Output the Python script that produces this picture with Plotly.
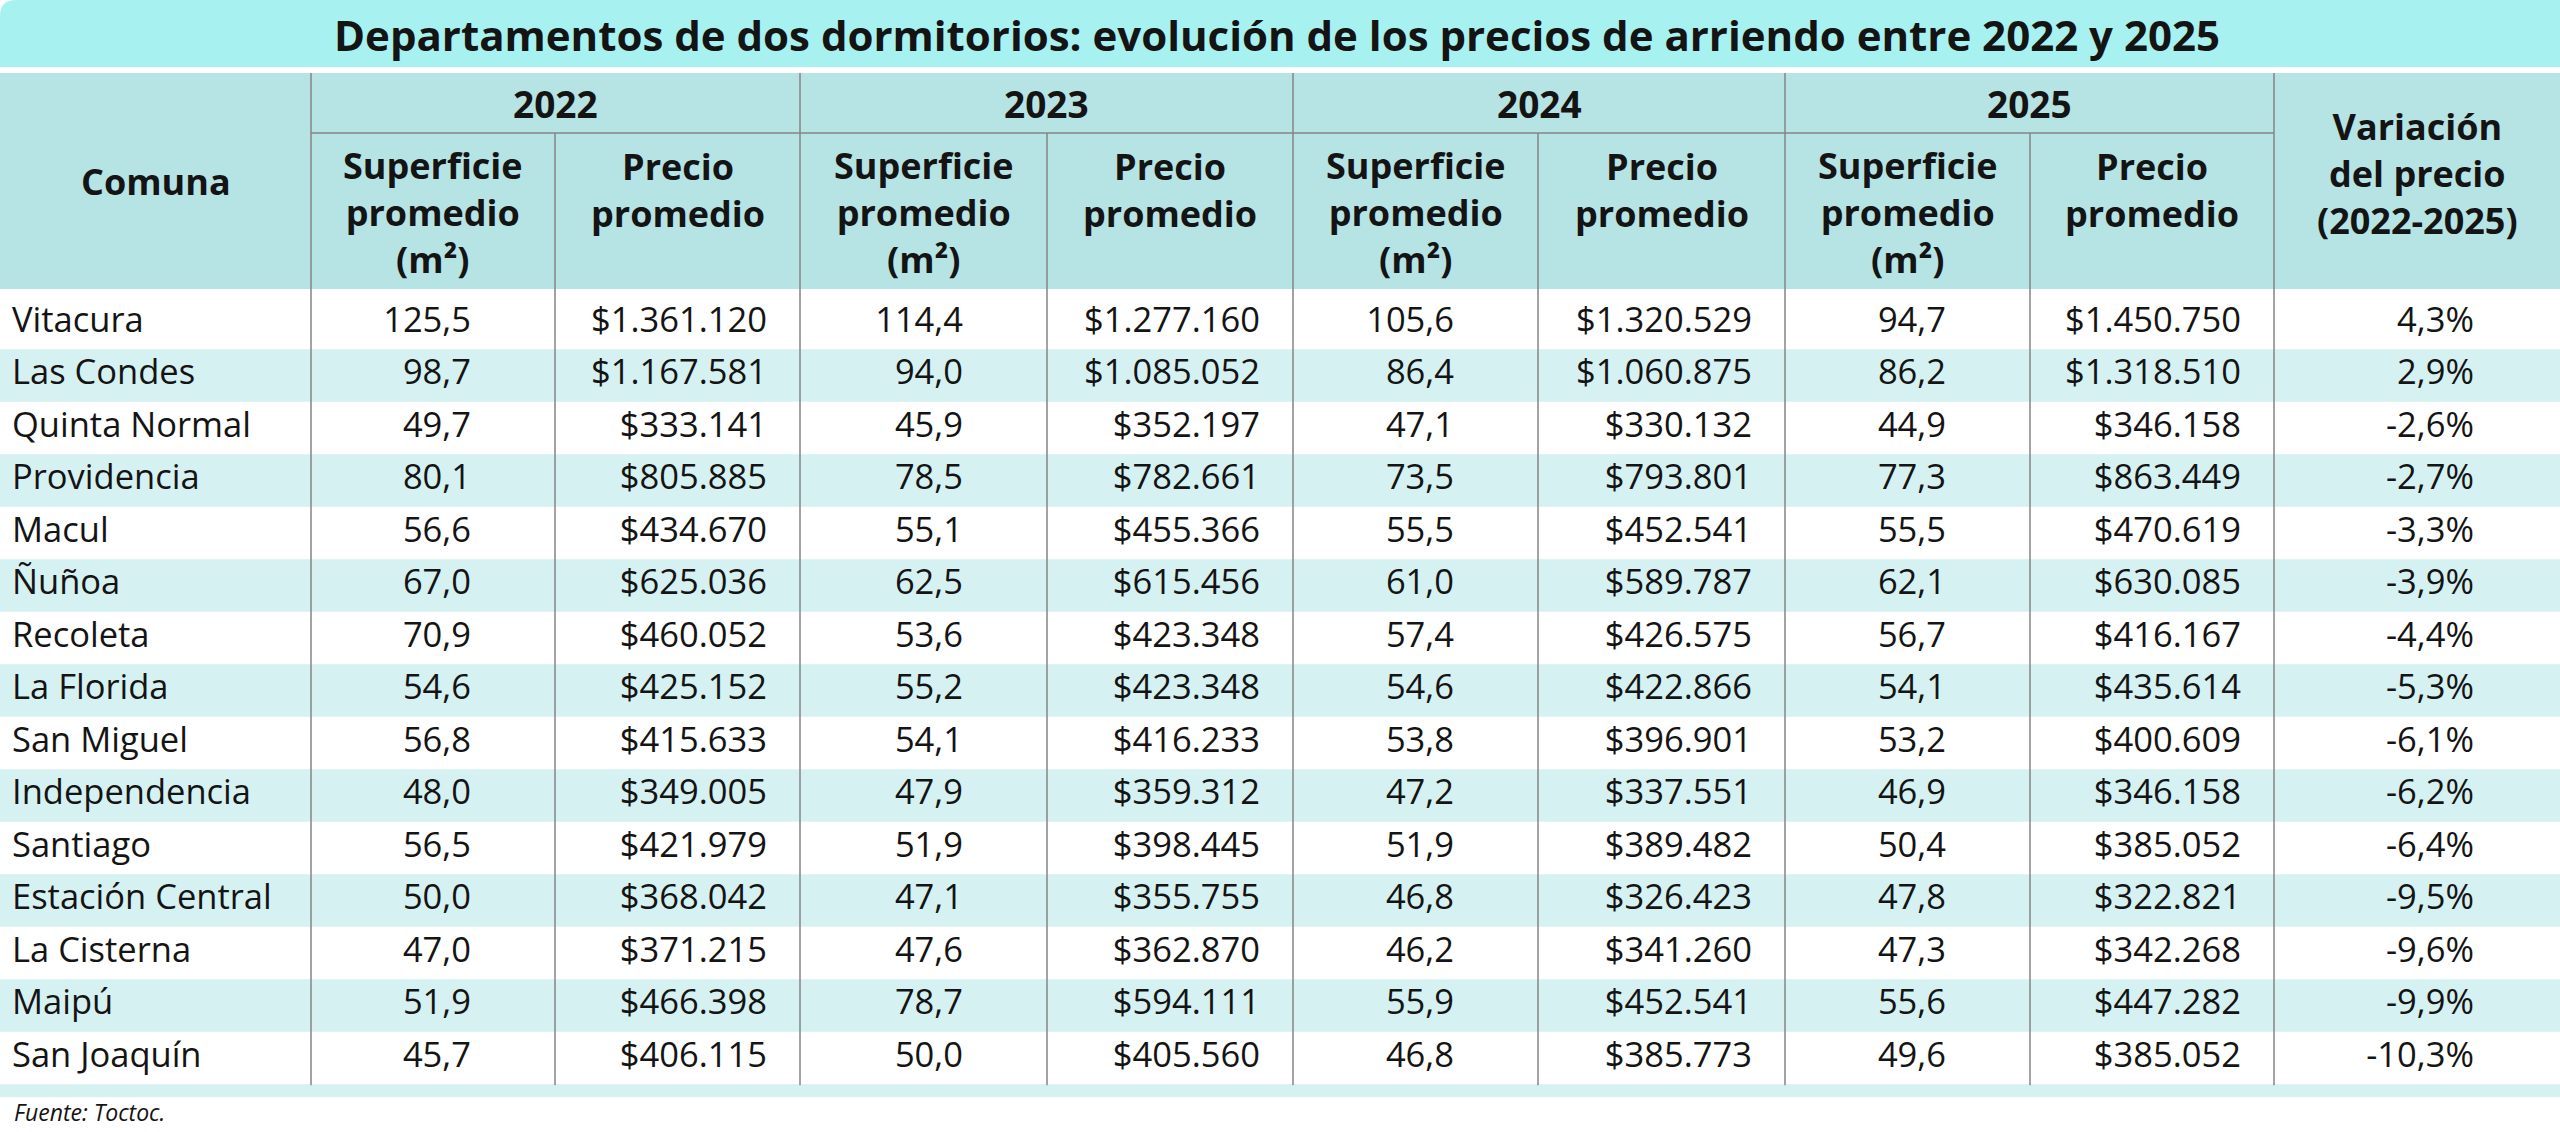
import plotly.graph_objects as go

# ----------------------------
# Datos
# ----------------------------
comunas = ['Vitacura', 'Las Condes', 'Quinta Normal', 'Providencia', 'Macul', 'Ñuñoa',
           'Recoleta', 'La Florida', 'San Miguel', 'Independencia', 'Santiago',
           'Estación Central', 'La Cisterna', 'Maipú', 'San Joaquín']

sup_2022 = [125.5, 98.7, 49.7, 80.1, 56.6, 67.0, 70.9, 54.6, 56.8, 48.0, 56.5, 50.0, 47.0, 51.9, 45.7]
precio_2022 = [1361120, 1167581, 333141, 805885, 434670, 625036, 460052, 425152, 415633,
               349005, 421979, 368042, 371215, 466398, 406115]

sup_2023 = [114.4, 94.0, 45.9, 78.5, 55.1, 62.5, 53.6, 55.2, 54.1, 47.9, 51.9, 47.1, 47.6, 78.7, 50.0]
precio_2023 = [1277160, 1085052, 352197, 782661, 455366, 615456, 423348, 423348, 416233,
               359312, 398445, 355755, 362870, 594111, 405560]

sup_2024 = [105.6, 86.4, 47.1, 73.5, 55.5, 61.0, 57.4, 54.6, 53.8, 47.2, 51.9, 46.8, 46.2, 55.9, 46.8]
precio_2024 = [1320529, 1060875, 330132, 793801, 452541, 589787, 426575, 422866, 396901,
               337551, 389482, 326423, 341260, 452541, 385773]

sup_2025 = [94.7, 86.2, 44.9, 77.3, 55.5, 62.1, 56.7, 54.1, 53.2, 46.9, 50.4, 47.8, 47.3, 55.6, 49.6]
precio_2025 = [1450750, 1318510, 346158, 863449, 470619, 630085, 416167, 435614, 400609,
               346158, 385052, 322821, 342268, 447282, 385052]

variacion = [4.3, 2.9, -2.6, -2.7, -3.3, -3.9, -4.4, -5.3, -6.1, -6.2, -6.4, -9.5, -9.6, -9.9, -10.3]

anios = ['2022', '2023', '2024', '2025']

titulo = 'Departamentos de dos dormitorios: evolución de los precios de arriendo entre 2022 y 2025'
fuente = 'Fuente: Toctoc.'

# ----------------------------
# Estilo y geometría
# ----------------------------
W, H = 2560, 1132
FONT = 'Open Sans'
NEGRO = '#141414'
C_TITULO = '#a7f1f0'
C_HEADER = '#b6e3e4'
C_FILA = '#d6f1f2'
C_LINEA = '#858585'
T_CUERPO = 34.5

bordes = [0, 311, 800, 1293, 1785, 2274, W]    # comuna | 4 años | variación
subcortes = [555, 1047, 1538, 2030]
y_header_top, y_header_mid, y_header_bot = 73, 133, 289
y_fila0, paso = 323, 52.5
y_fin = y_fila0 + (len(comunas) - 0.5) * paso

def fmt_dec(v):
    return f'{v:.1f}'.replace('.', ',')

def fmt_precio(v):
    return '$' + f'{v:,}'.replace(',', '.')

def fmt_pct(v):
    return f'{v:.1f}'.replace('.', ',') + '%'

filas_y = [y_fila0 + i * paso for i in range(len(comunas))]
cuerpo = dict(family=FONT, size=T_CUERPO, color=NEGRO)

# ----------------------------
# Figura
# ----------------------------
fig = go.Figure()

# nombres de comunas
fig.add_trace(go.Scatter(x=[12] * len(comunas), y=filas_y, text=comunas, mode='text',
                         textposition='middle right', cliponaxis=False,
                         textfont=cuerpo, hoverinfo='skip'))

columnas = [(sup_2022, precio_2022), (sup_2023, precio_2023),
            (sup_2024, precio_2024), (sup_2025, precio_2025)]
for k, (sup, precio) in enumerate(columnas):
    fig.add_trace(go.Scatter(x=[subcortes[k] - 84] * len(sup), y=filas_y,
                             text=[fmt_dec(v) for v in sup], mode='text',
                             textposition='middle left', cliponaxis=False,
                             textfont=cuerpo, hoverinfo='skip'))
    fig.add_trace(go.Scatter(x=[bordes[k + 2] - 33] * len(precio), y=filas_y,
                             text=[fmt_precio(v) for v in precio], mode='text',
                             textposition='middle left', cliponaxis=False,
                             textfont=cuerpo, hoverinfo='skip'))

fig.add_trace(go.Scatter(x=[W - 86] * len(variacion), y=filas_y,
                         text=[fmt_pct(v) for v in variacion], mode='text',
                         textposition='middle left', cliponaxis=False,
                         textfont=cuerpo, hoverinfo='skip'))

# ----------------------------
# Fondos y líneas
# ----------------------------
shapes = []
shapes.append(dict(type='path', path=f'M 0 67 L 0 16 Q 0 0 16 0 L {W} 0 L {W} 67 Z',
                   fillcolor=C_TITULO, line=dict(width=0), layer='below'))
shapes.append(dict(type='rect', x0=0, x1=W, y0=y_header_top, y1=y_header_bot,
                   fillcolor=C_HEADER, line=dict(width=0), layer='below'))
for i, y in enumerate(filas_y):
    if i % 2 == 1:
        shapes.append(dict(type='rect', x0=0, x1=W, y0=y - paso / 2, y1=y + paso / 2,
                           fillcolor=C_FILA, line=dict(width=0), layer='below'))
shapes.append(dict(type='rect', x0=0, x1=W, y0=y_fin, y1=y_fin + 13,
                   fillcolor=C_FILA, line=dict(width=0), layer='below'))

for x in bordes[1:-1]:
    shapes.append(dict(type='line', x0=x, x1=x, y0=y_header_top, y1=y_fin + 1,
                       line=dict(color=C_LINEA, width=1.5)))
for x in subcortes:
    shapes.append(dict(type='line', x0=x, x1=x, y0=y_header_mid, y1=y_fin + 1,
                       line=dict(color=C_LINEA, width=1.5)))
shapes.append(dict(type='line', x0=bordes[1], x1=bordes[-2], y0=y_header_mid, y1=y_header_mid,
                   line=dict(color=C_LINEA, width=1.5)))

# ----------------------------
# Encabezados
# ----------------------------
bold = dict(family=FONT, size=36, color=NEGRO, weight=700)
annotations = [
    dict(x=W / 2 - 3, y=34, text=titulo, font=dict(family=FONT, size=42, color=NEGRO, weight=700)),
    dict(x=bordes[1] / 2, y=181, text='Comuna', font=bold),
    dict(x=(bordes[-2] + W) / 2, y=173, text='Variación<br>del precio<br>(2022-2025)', font=bold),
    dict(x=12, y=1112, text=fuente, xanchor='left',
         font=dict(family=FONT, size=23, color=NEGRO, style='italic')),
]
for k, anio in enumerate(anios):
    x0, x1 = bordes[k + 1], bordes[k + 2]
    annotations.append(dict(x=(x0 + x1) / 2, y=103, text=anio,
                            font=dict(family=FONT, size=37, color=NEGRO, weight=700)))
    annotations.append(dict(x=(x0 + subcortes[k]) / 2, y=212,
                            text='Superficie<br>promedio<br>(m²)', font=bold))
    annotations.append(dict(x=(subcortes[k] + x1) / 2, y=190,
                            text='Precio<br>promedio', font=bold))
for a in annotations:
    a.update(xref='x', yref='y', showarrow=False)
    a.setdefault('xanchor', 'center')
    a.setdefault('yanchor', 'middle')

fig.update_layout(
    width=W, height=H,
    margin=dict(l=0, r=0, t=0, b=0),
    paper_bgcolor='white', plot_bgcolor='white',
    showlegend=False,
    shapes=shapes, annotations=annotations,
    xaxis=dict(range=[0, W], visible=False, fixedrange=True),
    yaxis=dict(range=[H, 0], visible=False, fixedrange=True),
)

# sin margen del body para que el gráfico quede en (0, 0)
fig.write_html('out.html', config={'displayModeBar': False},
               post_script="document.body.style.margin='0'; document.body.style.overflow='hidden';")
